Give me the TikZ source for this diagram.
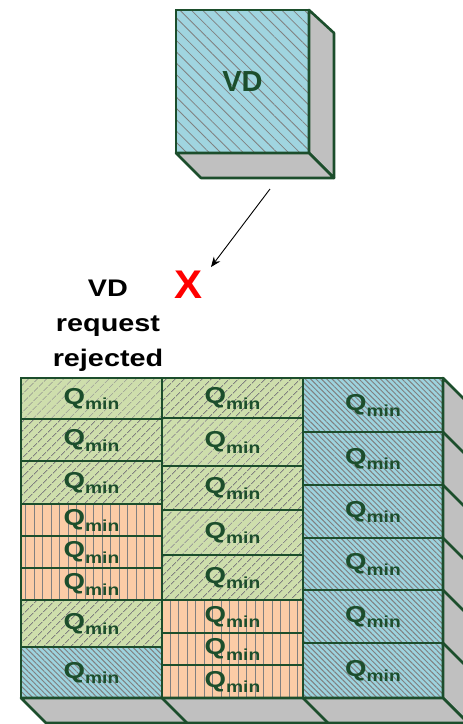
\documentclass[tikz,border=0pt]{standalone}
\usepackage{fontspec}
\setmainfont{Liberation Sans}
\usepackage{graphicx}
\usetikzlibrary{patterns.meta,arrows.meta}

\definecolor{dkgreen}{RGB}{28,78,44}
\definecolor{gfill}{RGB}{206,222,172}
\definecolor{ofill}{RGB}{251,204,166}
\definecolor{bfill}{RGB}{157,211,222}
\definecolor{cubefill}{RGB}{160,213,224}
\definecolor{hatch}{RGB}{128,128,128}
\definecolor{facegray}{RGB}{192,192,192}
\definecolor{xred}{RGB}{255,0,0}

% horizontally widened text
\newcommand\wide[2][1.2]{\scalebox{#1}[1]{#2}}
% cell label Q with subscript "min"
\newcommand\qmin{\wide{\fontsize{23}{23}\selectfont Q\raisebox{-5.5pt}[0pt][0pt]{\fontsize{16}{16}\selectfont min}}}
% one storage cell: name, style, x1, y1, x2, y2
\newcommand\cellat[6]{%
  \node[#2, minimum width={#5-#3}, minimum height={#6-#4}] (#1) at ({(#3+#5)/2},{(#4+#6)/2}) {\qmin};}

\begin{document}
\begin{tikzpicture}[x=1pt,y=-1pt,
  cell/.style={draw=dkgreen, line width=2.6pt, inner sep=0pt, outer sep=0pt,
    text=dkgreen, font=\bfseries},
  gcell/.style={cell, preaction={fill=gfill},
    pattern={Lines[angle=45,distance=6.5pt,line width=0.8pt]}, pattern color=hatch},
  ocell/.style={cell, preaction={fill=ofill},
    pattern={Lines[angle=90,distance=8.5pt,line width=0.8pt]}, pattern color=hatch},
  bcell/.style={cell, preaction={fill=bfill},
    pattern={Lines[angle=-45,distance=3.8pt,line width=1pt]}, pattern color=hatch},
  face/.style={draw=dkgreen, fill=facegray, line width=2.6pt, line join=round},
  edge/.style={draw=dkgreen, line width=2.6pt},
  vdbox/.style={draw=dkgreen, line width=2.8pt, inner sep=0pt, outer sep=0pt,
    preaction={fill=cubefill},
    pattern={Lines[angle=-45,distance=8pt,line width=0.8pt]}, pattern color=hatch,
    text=dkgreen, font=\bfseries\fontsize{29}{29}\selectfont},
  arrowline/.style={draw=black, line width=0.9pt, -{Stealth[length=10pt,width=8pt]}}
]
\useasboundingbox (0,0) rectangle (463,724);

% the requested VD block
\node[vdbox, minimum width=133, minimum height=143] (vd) at (242.5,81.5) {VD};
\draw[face] (vd.north east) -- ++(25,23) -- ++(0,145) -- (vd.south east) -- cycle;
\draw[face] (vd.south west) -- ++(25,25) -- ++(133,0) -- (vd.south east) -- cycle;

% request arrow and rejection mark
\coordinate (a0) at (270,189);
\coordinate (a1) at (211,267);
\draw[arrowline] (a0) -- (a1);
\node[text=xred, font=\bfseries\fontsize{40}{40}\selectfont, inner sep=0pt] (xmark) at (189,285) {\wide[1.05]{X}};
\node[align=center, font=\bfseries\fontsize{24}{35}\selectfont, inner sep=0pt] (rej) at (108,326)
  {\wide{VD}\\\wide{request}\\\wide{rejected}};

% left column
\cellat{l1}{gcell}{21}{378}{162}{419}
\cellat{l2}{gcell}{21}{419}{162}{461}
\cellat{l3}{gcell}{21}{461}{162}{504}
\cellat{l4}{ocell}{21}{504}{162}{536}
\cellat{l5}{ocell}{21}{536}{162}{568}
\cellat{l6}{ocell}{21}{568}{162}{600}
\cellat{l7}{gcell}{21}{600}{162}{647}
\cellat{l8}{bcell}{21}{647}{162}{698}
% middle column
\cellat{m1}{gcell}{162}{378}{303}{418}
\cellat{m2}{gcell}{162}{418}{303}{466}
\cellat{m3}{gcell}{162}{466}{303}{510}
\cellat{m4}{gcell}{162}{510}{303}{555}
\cellat{m5}{gcell}{162}{555}{303}{600}
\cellat{m6}{ocell}{162}{600}{303}{633}
\cellat{m7}{ocell}{162}{633}{303}{665}
\cellat{m8}{ocell}{162}{665}{303}{698}
% right column
\cellat{r1}{bcell}{303}{378}{443}{432}
\cellat{r2}{bcell}{303}{432}{443}{485}
\cellat{r3}{bcell}{303}{485}{443}{538}
\cellat{r4}{bcell}{303}{538}{443}{590}
\cellat{r5}{bcell}{303}{590}{443}{643}
\cellat{r6}{bcell}{303}{643}{443}{698}

% side and bottom faces of the pool
\draw[face] (r1.north east) -- ++(25,25) -- ++(0,320) -- (r6.south east) -- cycle;
\draw[face] (l8.south west) -- ++(25,25) -- ++(422,0) -- (r6.south east) -- cycle;
\foreach \n in {r2,r3,r4,r5,r6} \draw[edge] (\n.north east) -- ++(25,25);
\foreach \n in {m8,r6} \draw[edge] (\n.south west) -- ++(25,25);
\end{tikzpicture}
\end{document}
